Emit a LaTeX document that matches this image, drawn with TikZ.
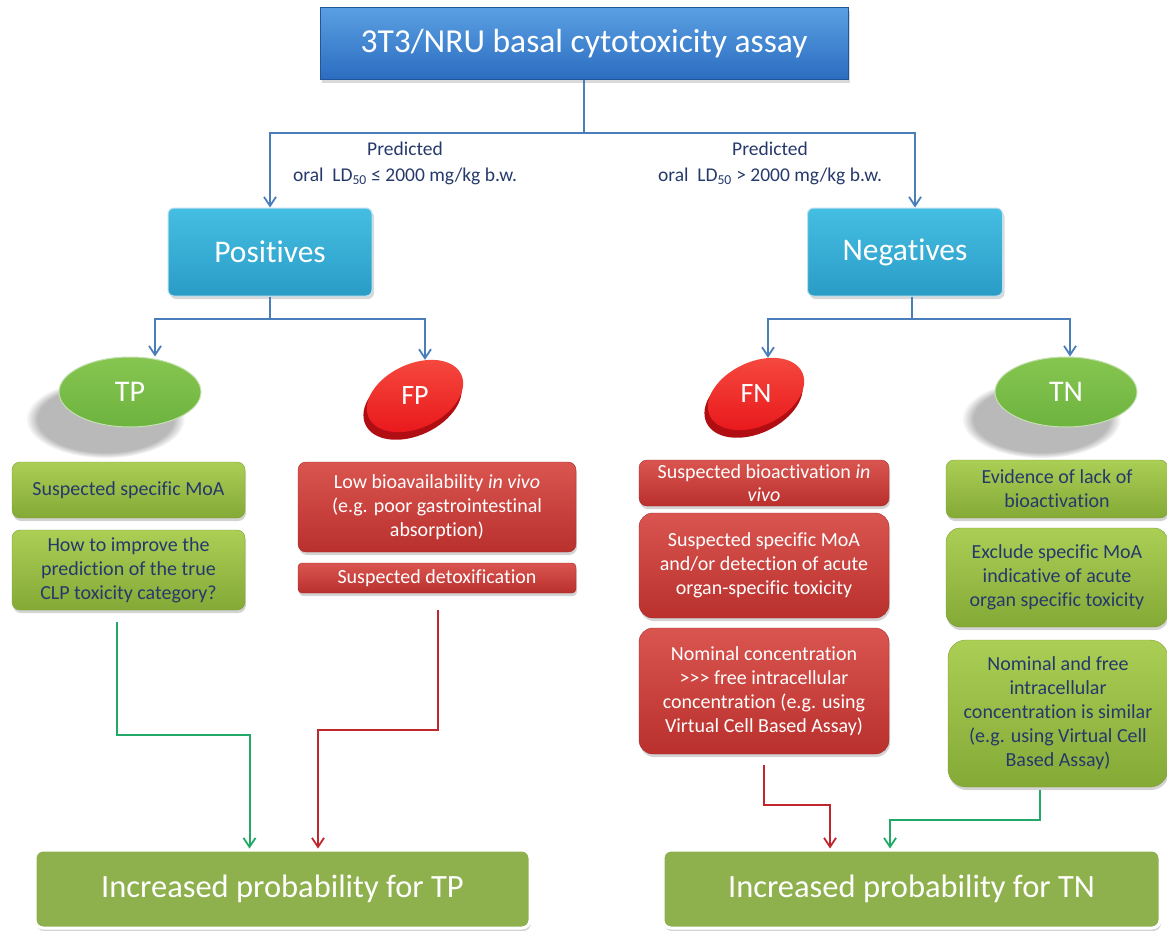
\documentclass[tikz,border=0pt]{standalone}
\usepackage{fontspec}
\setmainfont{Carlito}[Ligatures=CommonOff]
\usetikzlibrary{arrows.meta,shapes.geometric,shadows,positioning}

\definecolor{titletop}{HTML}{5A9FE2}
\definecolor{titlebot}{HTML}{2B6CC0}
\definecolor{cyantop}{HTML}{45BEE3}
\definecolor{cyanbot}{HTML}{2A9CC6}
\definecolor{linkblue}{HTML}{4A7EBB}
\definecolor{navytext}{HTML}{25396B}
\definecolor{greentop}{HTML}{ABCE55}
\definecolor{greenbot}{HTML}{84A936}
\definecolor{greenedge}{HTML}{7C9F33}
\definecolor{redtop}{HTML}{DA5550}
\definecolor{redbot}{HTML}{B9302D}
\definecolor{rededge}{HTML}{A82A27}
\definecolor{elgreen}{HTML}{6DB33F}
\definecolor{elgreentop}{HTML}{86C650}
\definecolor{elred}{HTML}{E8161A}
\definecolor{elredtop}{HTML}{F64B40}
\definecolor{elreddark}{HTML}{B00E12}
\definecolor{olive}{HTML}{8EB14E}
\definecolor{flowgreen}{HTML}{22A867}
\definecolor{flowred}{HTML}{C1262C}

\tikzset{
  link/.style={linkblue, line width=2pt, -{Straight Barb[length=9pt, width=12pt, line width=1.8pt]}},
  flow/.style={line width=2pt, -{Straight Barb[length=9pt, width=12pt, line width=1.8pt]}},
  box/.style={rectangle, rounded corners=8pt, align=center, inner sep=2pt,
    font=\fontsize{20}{24}\selectfont,
    drop shadow={shadow xshift=1pt, shadow yshift=-3pt, opacity=0.35}},
  gbox/.style={box, top color=greentop, bottom color=greenbot, draw=greenedge, text=navytext},
  rbox/.style={box, top color=redtop, bottom color=redbot, draw=rededge, text=white},
  headbox/.style={rectangle, rounded corners=6pt, text=white, draw=white!70!cyanbot,
    line width=1pt, top color=cyantop, bottom color=cyanbot,
    font=\fontsize{31.5}{34}\selectfont,
    drop shadow={shadow xshift=2pt, shadow yshift=-3pt, opacity=0.3}},
  goval/.style={ellipse, minimum width=142pt, minimum height=70pt, text=white,
    top color=elgreentop, bottom color=elgreen, draw=white!60!elgreen, line width=1pt,
    font=\fontsize{30}{34}\selectfont,
    circular drop shadow={shadow xshift=-22pt, shadow yshift=-24pt, shadow scale=1.12, opacity=0.55}},
  eltext/.style={text=white, minimum height=72pt, font=\fontsize{28}{32}\selectfont},
  result/.style={rectangle, rounded corners=8pt, fill=olive, draw=white, line width=3pt,
    text=white, font=\fontsize{32.5}{36}\selectfont,
    drop shadow={shadow xshift=1pt, shadow yshift=-3pt, opacity=0.35}},
  branch/.style={navytext, align=center, font=\fontsize{19.5}{26}\selectfont}
}

\begin{document}
\begin{tikzpicture}[x=1pt, y=-1pt]
  \useasboundingbox (0,0) rectangle (1167,931);

  %-- top box --
  \node[rectangle, minimum width=528pt, minimum height=72pt, top color=titletop,
    bottom color=titlebot, draw=titlebot!80!black, line width=1pt, text=white,
    font=\fontsize{33.5}{36}\selectfont,
    drop shadow={shadow xshift=2pt, shadow yshift=-3pt, opacity=0.3}]
    (assay) at (584,44) {3T3/NRU basal cytotoxicity assay};

  %-- Positives / Negatives --
  \node[headbox, minimum width=204pt, minimum height=88pt] (pos) at (270,252) {Positives};
  \node[headbox, minimum width=195pt, minimum height=88pt] (neg) at (905,252) {Negatives};

  \draw[link] (assay.south) -- ++(0,53) coordinate (split) -| (pos.north);
  \draw[link] (split) -| ([xshift=10pt]neg.north);

  \node[branch] (lowlab) at (405,163) {Predicted\\oral\ \ LD\textsubscript{50} ≤ 2000 mg/kg b.w.};
  \node[branch] (highlab) at (770,163) {Predicted\\oral\ \ LD\textsubscript{50} > 2000 mg/kg b.w.};

  %-- TP, FP, FN, TN --
  \node[goval] (tp) at (130,392) {TP};
  \node[goval] (tn) at (1066,392) {TN};

  \coordinate (fpc) at (415,396);
  \coordinate (fnc) at (756,394);
  \foreach \c in {fpc, fnc} {
      \fill[elreddark, rotate around={25:(\c)}] ([shift={(-5,5)}]\c) ellipse [x radius=52pt, y radius=33pt];
      \shade[top color=elredtop, bottom color=elred, rotate around={25:(\c)}]
      (\c) ellipse [x radius=51pt, y radius=32pt];
    }
  \node[eltext] (fp) at (fpc) {FP};
  \node[eltext] (fn) at (fnc) {FN};

  \draw[link] (pos.south) -- ++(0,22) coordinate (possplit) -| ([xshift=25pt]tp.north);
  \draw[link] (possplit) -| ([xshift=10pt]fp.north);
  \draw[link] ([xshift=7pt]neg.south) -- ++(0,22) coordinate (negsplit) -| ([xshift=12pt]fn.north);
  \draw[link] (negsplit) -| ([xshift=4pt]tn.north);

  %-- TP column --
  \node[gbox, minimum width=233pt, minimum height=56pt] (moa) at (128.5,490) {Suspected specific MoA};
  \node[gbox, minimum width=233pt, minimum height=80pt] (improve) at (128.5,570)
    {How to improve the\\prediction of the true\\CLP toxicity category?};

  %-- FP column --
  \node[rbox, minimum width=278pt, minimum height=90pt] (lowbio) at (437,507)
    {Low bioavailability \emph{in vivo}\\(e.g. poor gastrointestinal\\absorption)};
  \node[rbox, minimum width=278pt, minimum height=30pt, rounded corners=4pt] (detox) at (437,578)
    {Suspected detoxification};

  %-- FN column --
  \node[rbox, minimum width=250pt, minimum height=46pt, font=\fontsize{20}{23}\selectfont] (bioact) at (764,483)
    {Suspected bioactivation \emph{in}\\\emph{vivo}};
  \node[rbox, minimum width=250pt, minimum height=105pt, rounded corners=14pt] (organ) at (764,565.5)
    {Suspected specific MoA\\and/or detection of acute\\organ-specific toxicity};
  \node[rbox, minimum width=250pt, minimum height=126pt, rounded corners=14pt] (nominal) at (764,691)
    {Nominal concentration\\>{}>{}> free intracellular\\concentration (e.g. using\\Virtual Cell Based Assay)};

  %-- TN column --
  \node[gbox, minimum width=222pt, minimum height=58pt] (lack) at (1057,489)
    {Evidence of lack of\\bioactivation};
  \node[gbox, minimum width=222pt, minimum height=99pt, rounded corners=14pt] (exclude) at (1057,577.5)
    {Exclude specific MoA\\indicative of acute\\organ specific toxicity};
  \node[gbox, minimum width=220pt, minimum height=147pt, rounded corners=18pt] (similar) at (1058,713.5)
    {Nominal and free\\intracellular\\concentration is similar\\(e.g. using Virtual Cell\\Based Assay)};

  %-- results --
  \node[result, minimum width=495pt, minimum height=78pt] (incTP) at (282.5,889)
    {Increased probability for TP};
  \node[result, minimum width=497pt, minimum height=78pt] (incTN) at (911.5,889)
    {Increased probability for TN};

  \draw[flow, flowgreen] ([shift={(-12,12)}]improve.south) -- ++(0,113) -| ([xshift=-33pt]incTP.north);
  \draw[flow, flowred] ([shift={(1,17)}]detox.south) -- ++(0,120) -| ([xshift=35.5pt]incTP.north);
  \draw[flow, flowred] ([shift={(0,11)}]nominal.south) -- ++(0,40) -| ([xshift=-81.5pt]incTN.north);
  \draw[flow, flowgreen] ([shift={(-18,3)}]similar.south) -- ++(0,30) -| ([xshift=-21.5pt]incTN.north);

\end{tikzpicture}
\end{document}
